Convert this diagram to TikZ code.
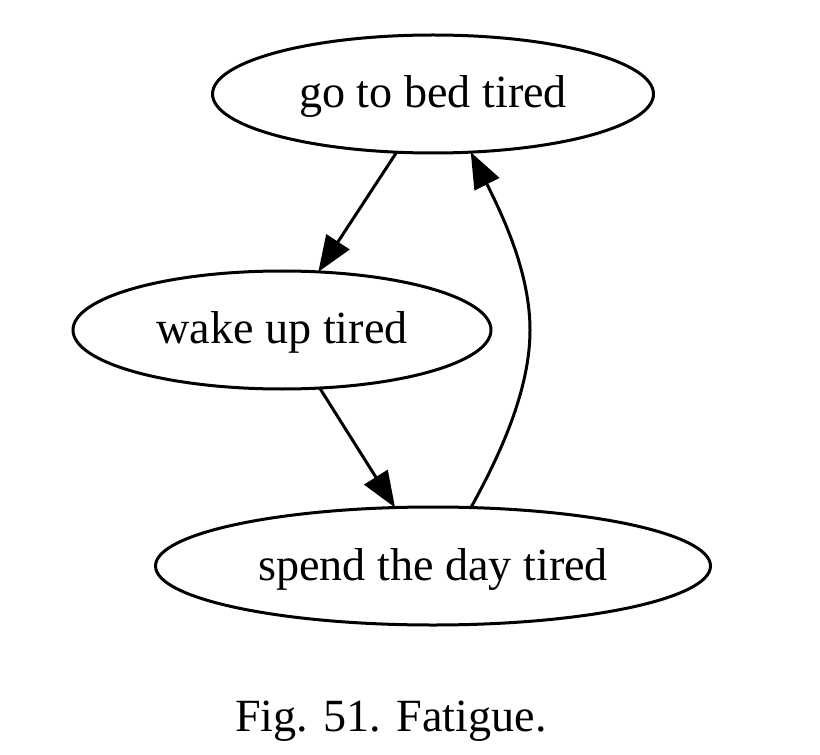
\documentclass[tikz,border=0pt]{standalone}
\usepackage{fontspec}
\setmainfont{Liberation Serif}
\usetikzlibrary{shapes.geometric,arrows.meta}
\begin{document}
\begin{tikzpicture}[x=0.75pt,y=-0.75pt,
  lbl/.style={font=\fontsize{34.6}{40}\selectfont,text height=29pt,text depth=8pt},
  state/.style={lbl,ellipse,draw,line width=2.25pt,inner sep=0pt,outer sep=0pt,minimum height=88.5pt},
  conn/.style={line width=2.25pt,-{Triangle[length=27pt,width=20.5pt]}}]
\useasboundingbox (0,0) rectangle (820,755);
\node[state,minimum width=330.75pt] (bed) at (433,94) {go to bed tired};
\node[state,minimum width=313.5pt] (wake) at (282,330) {wake up tired};
\node[state,minimum width=416.25pt] (spend) at (433,566) {spend the day tired};
\node[lbl] (cap) at (391,717) {Fig. 51. Fatigue.};
\coordinate (mid) at (530,330);
\draw[conn] (bed.-122.8) -- (wake.58.4);
\draw[conn] (wake.-57.2) -- (spend.123);
\draw[conn] (spend.57.9) .. controls (500,455) and (530,390) .. (mid) .. controls (530,275) and (505,220) .. (bed.-57.5);
\end{tikzpicture}
\end{document}
